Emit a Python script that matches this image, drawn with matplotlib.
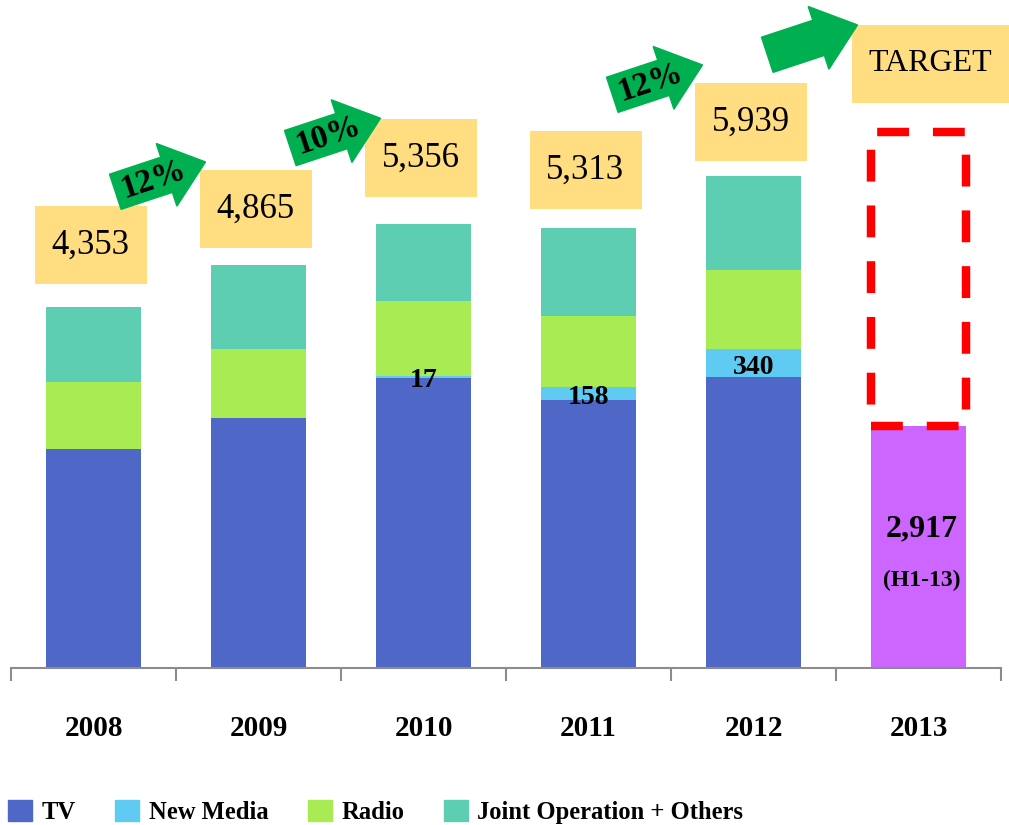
import numpy as np
import matplotlib
matplotlib.use('Agg')
import matplotlib.pyplot as plt
from matplotlib.patches import Rectangle, FancyArrow, Patch
from matplotlib.transforms import IdentityTransform

plt.rcParams['font.family'] = ['Liberation Serif', 'DejaVu Serif']

# Data
years = ['2008', '2009', '2010', '2011', '2012', '2013']
tv = [2640, 3018, 3506, 3235, 3510]
new_media = [0, 0, 17, 158, 340]
radio = [809, 833, 905, 857, 954]
joint_ops = [904, 1014, 928, 1063, 1135]
totals = [4353, 4865, 5356, 5313, 5939]
h1_2013 = 2917
target_top = 6470
# (from bar, to bar, text)
growth = [(0, 1, '12%'), (1, 2, '10%'), (3, 4, '12%'), (4, 5, '')]

c_tv = '#4F68C8'
c_nm = '#5FCBF3'
c_radio = '#A9EB52'
c_jo = '#5ECEB2'
c_2013 = '#CC66FF'
c_box = '#FFDD80'
c_arrow = '#00B050'
c_axis = '#8C8C8C'

W, H = 1009, 825
fig = plt.figure(figsize=(W / 100, H / 100), dpi=100)
ax = fig.add_axes([11 / W, 157 / H, 990 / W, 668 / H])

x = np.arange(len(tv))
bw = 0.57
b1 = np.array(tv)
b2 = b1 + np.array(new_media)
b3 = b2 + np.array(radio)
ax.bar(x, tv, bw, color=c_tv, zorder=2)
ax.bar(x, new_media, bw, bottom=b1, color=c_nm, zorder=2)
ax.bar(x, radio, bw, bottom=b2, color=c_radio, zorder=2)
ax.bar(x, joint_ops, bw, bottom=b3, color=c_jo, zorder=2)
ax.bar(5, h1_2013, bw, color=c_2013, zorder=2)

ax.set_xlim(-0.5, 5.5)
ax.set_ylim(0, 668 * 12.07)
for s in ['top', 'left', 'right']:
    ax.spines[s].set_visible(False)
ax.spines['bottom'].set_color(c_axis)
ax.spines['bottom'].set_linewidth(1.5)
ax.set_yticks([])
ax.set_xticks(np.arange(-0.5, 6, 1))
ax.set_xticklabels([])
ax.set_xticks(range(6), minor=True)
ax.set_xticklabels(years, minor=True, fontsize=21, fontweight='bold')
ax.tick_params(axis='x', which='major', direction='out', length=9.5, width=1.5, color=c_axis)
ax.tick_params(axis='x', which='minor', length=0, pad=34)

# New media labels
for i in range(len(tv)):
    if new_media[i]:
        ax.annotate(str(new_media[i]), (i, tv[i] + new_media[i] / 2), xytext=(0, -3),
                    textcoords='offset points', ha='center', va='center',
                    fontsize=20, fontweight='bold', zorder=6)

# 2013 labels
ax.annotate(f'{h1_2013:,}', (5, h1_2013 / 2), xytext=(2, 13), textcoords='offset points',
            ha='center', va='center', fontsize=23, fontweight='bold')
ax.annotate('(H1-13)', (5, h1_2013 / 2), xytext=(2, -24), textcoords='offset points',
            ha='center', va='center', fontsize=17, fontweight='bold')

# dashed target outline
ax.add_patch(Rectangle((5 - bw / 2, h1_2013), bw, target_top - h1_2013, fill=False,
                       edgecolor='#FF0000', lw=6.1, linestyle=(0, (3.76, 2.82)), zorder=5))

# label boxes (pixel layout)
px = ax.transData.transform
ident = IdentityTransform()
box_w, box_h = 112, 78
gaps = [62, 56, 66, 58, 54]
box_tl = []
for i, t in enumerate(totals):
    cx, top = px((i, t))
    cy = top + gaps[i]
    x0 = cx - 3 - box_w / 2
    fig.add_artist(Rectangle((x0, cy - box_h / 2), box_w, box_h, transform=ident,
                             facecolor=c_box, edgecolor='none', zorder=3))
    fig.text(cx - 3, cy, f'{t:,}', transform=ident, ha='center', va='center',
             fontsize=25, zorder=4)
    box_tl.append((x0, cy + box_h / 2))

cx5, ttop = px((5, target_top))
tx0, tw = cx5 - 67, 165
tb = ttop + 29
fig.add_artist(Rectangle((tx0, tb), tw, box_h, transform=ident,
                         facecolor=c_box, edgecolor='none', zorder=3))
fig.text(tx0 + 79, tb + box_h / 2, 'TARGET', transform=ident, ha='center', va='center',
         fontsize=23, zorder=4)
box_tl.append((tx0, tb + box_h))

# growth arrows
tip_off = [(6, 8), (16, 1), (8, 18), (6, 0)]
ang = np.deg2rad(18.3)
L = 95
for k, (a, b, txt) in enumerate(growth):
    bx, by = box_tl[b]
    tipx, tipy = bx + tip_off[k][0], by + tip_off[k][1]
    tx, ty = tipx - L * np.cos(ang), tipy - L * np.sin(ang)
    fig.add_artist(FancyArrow(tx, ty, L * np.cos(ang), L * np.sin(ang), width=37,
                              head_width=66, head_length=41, length_includes_head=True,
                              color=c_arrow, transform=ident, zorder=5))
    if txt:
        fig.text(tx + 40 * np.cos(ang), ty + 40 * np.sin(ang), txt, transform=ident,
                 rotation=18.3, rotation_mode='anchor', ha='center', va='center',
                 fontsize=24, fontweight='bold', zorder=6)

# legend
handles = [Patch(color=c) for c in [c_tv, c_nm, c_radio, c_jo]]
labels = ['TV', 'New Media', 'Radio', 'Joint Operation + Others']
fig.legend(handles, labels, loc='lower left', bbox_to_anchor=(8 / W, 1 / H), ncol=4,
           frameon=False, prop={'weight': 'bold', 'size': 17.7}, handlelength=0.97,
           handleheight=0.97, handletextpad=0.4, columnspacing=1.6, borderpad=0,
           borderaxespad=0)

fig.savefig('out.png', dpi=100)
